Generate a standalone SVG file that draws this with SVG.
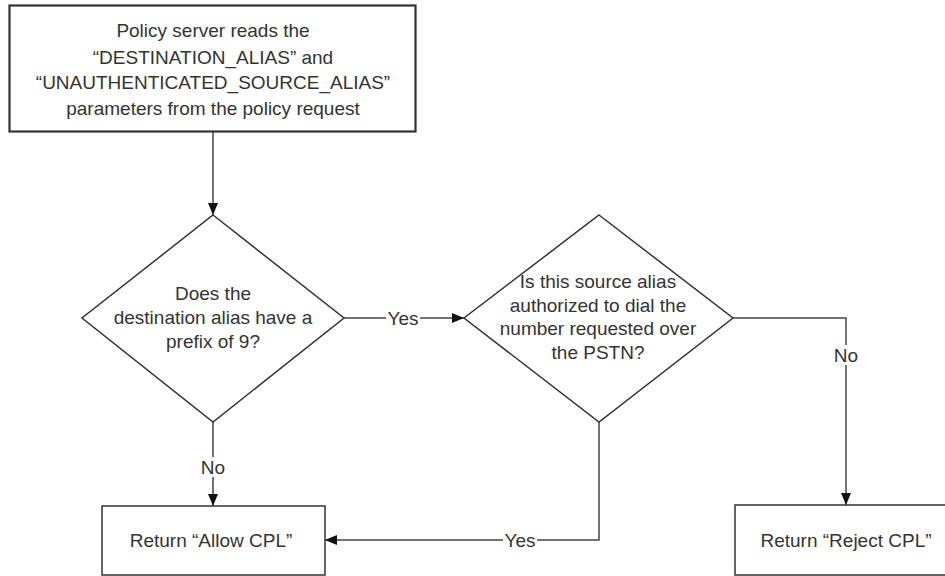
<svg xmlns="http://www.w3.org/2000/svg" width="945" height="576" viewBox="0 0 945 576">
<style>
.shape{fill:#fff;stroke:#333;stroke-width:1.5}
.conn{fill:none;stroke:#444;stroke-width:1.5}
text{font-family:"Liberation Sans",Arial,sans-serif;font-size:19px;fill:#333;text-anchor:middle}
.lbl{fill:#fff;stroke:none}
</style>
<defs>
<marker id="arr" viewBox="0 0 12 10" refX="12" refY="5" markerWidth="12" markerHeight="10" markerUnits="userSpaceOnUse" orient="auto">
<path d="M0,0 L12,5 L0,10 Z" fill="#111"/>
</marker>
</defs>
<rect width="945" height="576" fill="#fff"/>
<g id="connectors">
<path class="conn" d="M213,131 L213,215" marker-end="url(#arr)"/>
<path class="conn" d="M344,318 L464,318" marker-end="url(#arr)"/>
<path class="conn" d="M213,422 L213,506" marker-end="url(#arr)"/>
<path class="conn" d="M599,422 L599,540 L325,540" marker-end="url(#arr)"/>
<path class="conn" d="M733,318 L846,318 L846,505" marker-end="url(#arr)"/>
<rect class="lbl" x="386" y="308" width="34" height="20"/>
<text x="403" y="325">Yes</text>
<rect class="lbl" x="201" y="457" width="24" height="20"/>
<text x="213" y="474">No</text>
<rect class="lbl" x="503" y="530" width="34" height="20"/>
<text x="520" y="547">Yes</text>
<rect class="lbl" x="834" y="345" width="24" height="20"/>
<text x="846" y="362">No</text>
</g>
<g id="start">
<rect class="shape" x="9.5" y="5.5" width="406" height="126" style="stroke-width:2.2"/>
<text x="213" y="37">Policy server reads the</text>
<text x="213" y="64">“DESTINATION_ALIAS” and</text>
<text x="213" y="89">“UNAUTHENTICATED_SOURCE_ALIAS”</text>
<text x="213" y="115">parameters from the policy request</text>
</g>
<g id="decision1">
<polygon class="shape" points="213,215 344,318 213,422 82,318"/>
<text x="213" y="300">Does the</text>
<text x="213" y="324">destination alias have a</text>
<text x="213" y="348">prefix of 9?</text>
</g>
<g id="decision2">
<polygon class="shape" points="599,215 733,318 599,422 464,318"/>
<text x="598" y="288">Is this source alias</text>
<text x="598" y="312">authorized to dial the</text>
<text x="598" y="335">number requested over</text>
<text x="598" y="359">the PSTN?</text>
</g>
<g id="allow">
<rect class="shape" x="102" y="506" width="223" height="69"/>
<text x="211" y="547">Return “Allow CPL”</text>
</g>
<g id="reject">
<rect class="shape" x="735" y="505" width="222" height="70"/>
<text x="846" y="547">Return “Reject CPL”</text>
</g>
</svg>
